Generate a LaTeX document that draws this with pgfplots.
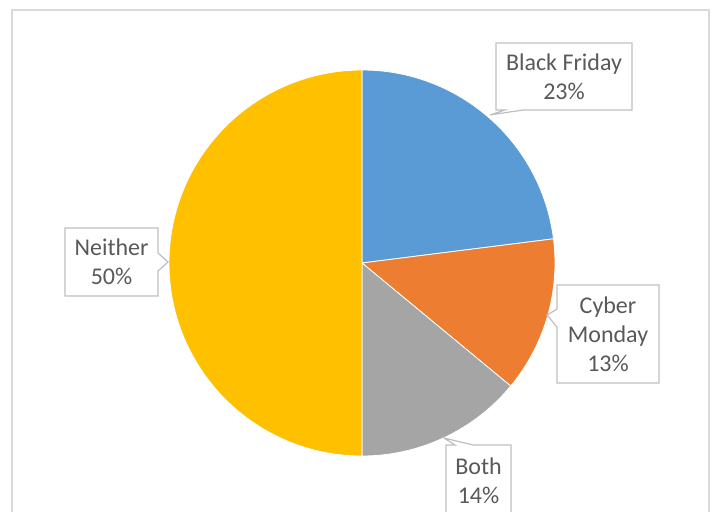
\documentclass[border=0pt]{standalone}
\usepackage{pgfplots}
\pgfplotsset{compat=1.18}
\usepackage{fontspec}
\setmainfont{Carlito}
\usetikzlibrary{shapes.callouts}

\definecolor{cBF}{HTML}{5B9BD5}
\definecolor{cCM}{HTML}{ED7D31}
\definecolor{cBO}{HTML}{A5A5A5}
\definecolor{cNE}{HTML}{FFC000}
\definecolor{cLabel}{HTML}{595959}
\definecolor{cFrame}{HTML}{D9D9D9}
\definecolor{cBox}{HTML}{BFBFBF}

\tikzset{lab/.style={rectangle callout, draw=cBox, line width=1.2bp, fill=white,
    text=cLabel, font=\fontsize{24bp}{29bp}\selectfont, align=center,
    inner sep=0pt, callout pointer width=18bp}}

% shares in percent, clockwise from 12 o'clock
\def\vBF{23}
\def\vCM{13}
\def\vBO{14}
\def\vNE{50}

\begin{document}
\begin{tikzpicture}
\path[use as bounding box] (0,0) rectangle (716bp,512bp);
\begin{axis}[
    x=1bp, y=1bp,
    xmin=0, xmax=716, ymin=0, ymax=512,
    anchor=origin, at={(0,0)},
    hide axis, clip=false,
]
% chart frame
\draw[cFrame, line width=1.5bp] (axis cs:12,502) rectangle (axis cs:709,-10);

% slices
\fill[cBF, draw=white, line width=0.8bp] (axis cs:362,249) -- ++(90:193bp)
    arc[start angle=90, end angle={90-3.6*\vBF}, radius=193bp] -- cycle;
\fill[cCM, draw=white, line width=0.8bp] (axis cs:362,249) -- ++({90-3.6*\vBF}:193bp)
    arc[start angle={90-3.6*\vBF}, end angle={90-3.6*(\vBF+\vCM)}, radius=193bp] -- cycle;
\fill[cBO, draw=white, line width=0.8bp] (axis cs:362,249) -- ++({90-3.6*(\vBF+\vCM)}:193bp)
    arc[start angle={90-3.6*(\vBF+\vCM)}, end angle={90-3.6*(\vBF+\vCM+\vBO)}, radius=193bp] -- cycle;
\fill[cNE, draw=white, line width=0.8bp] (axis cs:362,249) -- ++({90-3.6*(\vBF+\vCM+\vBO)}:193bp)
    arc[start angle={90-3.6*(\vBF+\vCM+\vBO)}, end angle={90-3.6*(\vBF+\vCM+\vBO+\vNE)}, radius=193bp] -- cycle;

% data labels
\node[lab, minimum width=136bp, minimum height=67bp,
      callout absolute pointer={(axis cs:490,397)}]
  at (axis cs:564,435.5) {Black Friday\\23\%};
\node[lab, minimum width=102bp, minimum height=98bp,
      callout absolute pointer={(axis cs:547,197)}]
  at (axis cs:608,178) {Cyber\\Monday\\13\%};
\node[lab, minimum width=65bp, minimum height=72bp,
      callout absolute pointer={(axis cs:444,74)}]
  at (axis cs:478.5,31) {Both\\14\%};
\node[lab, minimum width=93bp, minimum height=68bp,
      callout absolute pointer={(axis cs:168,250)}]
  at (axis cs:111.5,250) {Neither\\50\%};
\end{axis}
\end{tikzpicture}
\end{document}
